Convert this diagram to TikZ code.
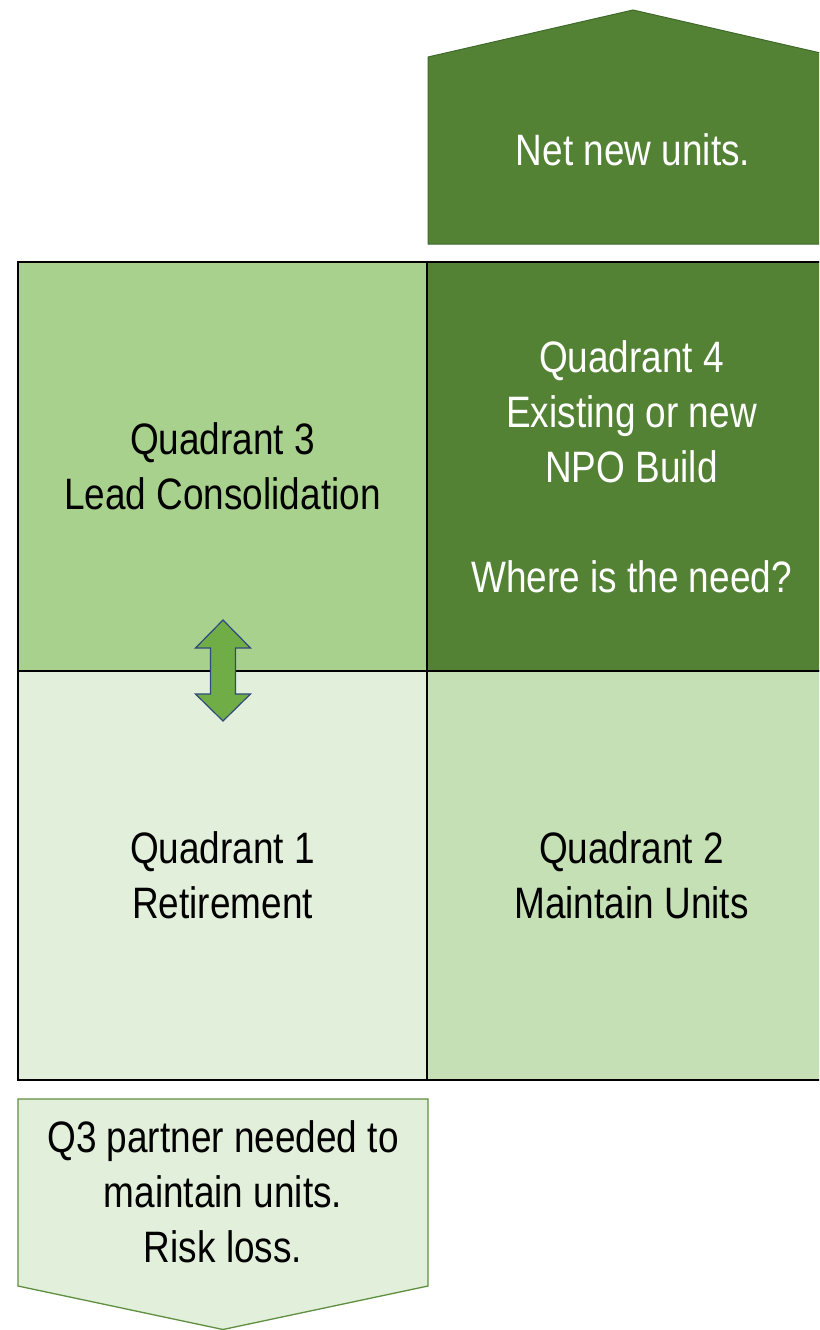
\documentclass[tikz,border=0pt]{standalone}
\usepackage{fontspec}
\setmainfont{Liberation Sans}[FakeStretch=0.84]
\usetikzlibrary{positioning}
\usepackage{xcolor}

\definecolor{qonefill}{HTML}{E2EFDA}
\definecolor{qtwofill}{HTML}{C5E0B4}
\definecolor{qthreefill}{HTML}{A9D18E}
\definecolor{qfourfill}{HTML}{548235}
\definecolor{darkrim}{HTML}{3F6A2A}
\definecolor{lightrim}{HTML}{5E8F40}
\definecolor{swapgreen}{HTML}{70AD47}
\definecolor{swaprim}{HTML}{2F4A7C}

\begin{document}
\begin{tikzpicture}
  [x=1pt,y=-1pt,
   quad/.style={rectangle,draw=black,line width=1.8pt,inner sep=0pt,
     minimum width=409pt,minimum height=409pt,align=center,
     font=\fontsize{44}{55}\selectfont},
   label/.style={align=center,inner sep=0pt,font=\fontsize{44}{55}\selectfont}]
  \useasboundingbox (0,0) rectangle (819,1330);
  \clip (0,0) rectangle (819,1330);

  % up arrow
  \filldraw[fill=qfourfill,draw=darkrim,line width=1pt]
    (428,244) -- (428,57) -- (633,10) -- (838,57) -- (838,244) -- cycle;
  \node[label,text=white] (netnew) at (633,150) {Net new units.};

  % the four quadrants
  \node[quad,fill=qthreefill] (q3) at (222.5,466.5) {Quadrant 3\\Lead Consolidation};
  \node[quad,fill=qfourfill,text=white] (q4) at (631.5,466.5)
    {Quadrant 4\\Existing or new\\NPO Build\\[55pt]Where is the need?};
  \node[quad,fill=qonefill] (q1) at (222.5,875.5) {Quadrant 1\\Retirement};
  \node[quad,fill=qtwofill] (q2) at (631.5,875.5) {Quadrant 2\\Maintain Units};

  % swap arrow between Q3 and Q1
  \filldraw[fill=swapgreen,draw=swaprim,line width=1.2pt]
    (223,620) -- (250.5,648) -- (235.5,648) -- (235.5,694) -- (250.5,694)
    -- (223,721) -- (195.5,694) -- (210.5,694) -- (210.5,648) -- (195.5,648) -- cycle;

  % down arrow
  \filldraw[fill=qonefill,draw=lightrim,line width=1.3pt]
    (18,1099) -- (428,1099) -- (428,1286) -- (223,1329.5) -- (18,1286) -- cycle;
  \node[label] (risk) at (223,1192) {Q3 partner needed to\\maintain units.\\Risk loss.};

\end{tikzpicture}
\end{document}
